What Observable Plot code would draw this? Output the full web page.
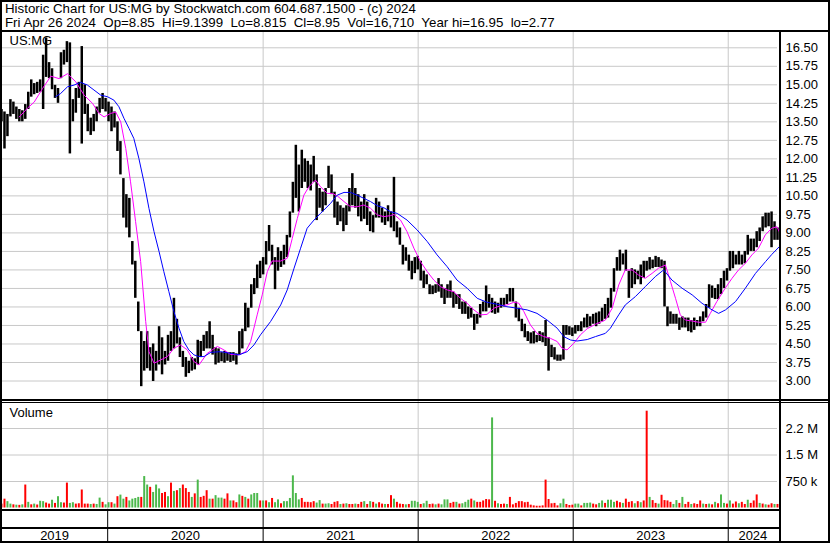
<!DOCTYPE html>
<html>
<head>
<meta charset="utf-8">
<script src="https://cdn.jsdelivr.net/npm/d3@7"></script>
<script src="https://cdn.jsdelivr.net/npm/@observablehq/plot@0.6"></script>
<style>
  html, body { margin: 0; padding: 0; background: #fff; }
  #chart { position: relative; width: 830px; height: 543px; background: #fff; overflow: hidden;
           font-family: "Liberation Sans", Arial, sans-serif; color: #000; }
  .abs { position: absolute; }
  .line { position: absolute; background: #000; }
  .title { position: absolute; left: 5px; font-size: 13.3px; line-height: 14px; white-space: pre; }
</style>
</head>
<body>
<div id="chart"></div>
<script>
// ---------------- DATA ----------------
const titleLine1 = "Historic Chart for US:MG by Stockwatch.com 604.687.1500 - (c) 2024";
const titleLine2 = "Fri Apr 26 2024  Op=8.85  Hi=9.1399  Lo=8.815  Cl=8.95  Vol=16,710  Year hi=16.95  lo=2.77";
const symbol = "US:MG";
const volumeLabel = "Volume";
const firstWeek = "2019-04-26";
const lastDay = "2024-04-26";

// weekly highs / lows (week 0 = 2019-04-26)
const weekHigh = [
14.0,13.9,13.8,14.4,14.3,14.1,14.0,13.95,14.2,14.7,15.2,15.05,15.1,15.2,16.2,16.9,15.9,15.65,14.98,14.85,
16.3,16.4,16.75,16.7,14.4,14.85,15.1,16.55,15.0,14.2,13.65,13.8,14.1,14.45,14.65,14.45,14.3,14.1,13.9,13.5,
12.7,11.2,10.55,10.4,8.65,7.85,6.2,5.0,4.6,5.0,4.35,4.5,4.2,5.2,4.75,4.2,4.85,5.0,6.35,5.5,
4.75,4.2,3.95,3.8,3.95,3.9,4.65,4.6,4.85,5.0,5.4,4.85,4.35,4.3,4.15,4.2,4.15,4.15,4.15,4.1,
5.0,5.1,6.15,5.95,6.9,7.15,7.7,7.85,8.0,8.65,9.3,8.5,8.0,8.4,8.25,8.5,8.9,9.85,11.05,12.55,
11.75,12.35,12.0,11.9,11.75,12.1,11.35,10.8,10.65,10.8,11.7,11.35,10.65,10.25,10.1,10.0,10.1,10.8,11.4,10.8,
10.55,10.25,10.55,10.25,9.85,9.7,10.4,10.25,10.0,9.85,10.1,9.85,11.25,9.45,9.2,8.5,8.4,8.1,7.85,8.0,
8.05,7.85,7.45,7.3,6.9,6.85,6.9,7.15,6.9,6.75,6.9,7.05,6.6,6.5,6.5,6.2,6.2,6.0,5.95,5.7,
5.7,6.1,6.2,6.85,6.5,6.35,6.2,6.15,6.35,6.35,6.5,6.75,6.75,6.2,5.95,5.5,5.3,5.0,4.95,5.0,
4.85,5.0,4.95,5.45,4.75,4.45,4.35,4.05,4.05,5.25,5.25,5.2,5.15,5.25,5.25,5.4,5.55,5.7,5.6,5.7,
5.75,5.8,5.95,6.1,6.35,6.75,7.55,8.0,8.3,8.15,8.3,7.45,7.55,7.5,7.45,7.7,7.85,7.85,8.0,7.9,
8.05,8.0,7.9,7.85,6.0,5.8,5.7,5.7,5.55,5.6,5.55,5.55,5.45,5.55,5.45,5.6,5.8,6.1,6.9,6.85,
6.75,6.9,7.15,7.45,7.55,8.25,8.25,8.1,8.25,8.1,8.25,8.9,8.75,8.75,9.05,9.2,9.65,9.8,9.8,9.85,
9.45,9.2];
const weekLow = [
13.5,12.4,12.9,13.7,13.8,13.6,13.5,13.5,13.6,14.0,14.5,14.6,14.65,14.7,14.0,15.3,15.25,14.8,14.45,14.25,
15.25,15.8,15.9,12.2,13.5,13.85,14.45,12.6,13.8,13.1,12.95,13.1,13.5,13.85,14.0,13.9,13.5,13.1,13.25,12.3,
11.35,9.6,9.2,8.8,7.7,6.35,5.0,2.77,3.4,3.5,3.4,2.98,3.4,3.65,3.25,3.65,3.8,4.2,4.3,4.5,
3.95,3.55,3.15,3.3,3.4,3.45,3.65,3.95,4.2,4.3,4.3,4.05,3.65,3.72,3.78,3.72,3.8,3.75,3.8,3.65,
4.05,4.3,5.0,5.15,5.95,6.5,6.75,7.15,7.3,7.7,8.25,7.7,6.7,7.45,7.6,7.7,8.0,8.8,9.8,10.4,
9.85,10.8,11.05,10.8,10.7,11.05,9.5,10.0,9.85,10.1,10.8,10.55,9.6,9.3,9.45,9.05,9.3,9.85,10.1,10.0,
9.65,9.45,9.55,9.3,9.05,9.0,9.6,9.6,9.4,9.3,9.45,9.2,9.05,8.8,8.5,7.7,7.85,7.45,7.1,7.35,
7.5,7.05,6.75,6.9,6.5,6.5,6.55,6.6,6.35,6.1,6.35,6.35,5.95,6.1,5.9,5.7,5.7,5.5,5.55,5.05,
5.3,5.55,5.8,5.8,5.95,5.75,5.7,5.75,5.95,6.0,6.1,6.2,6.2,5.55,5.4,5.0,4.75,4.6,4.5,4.5,
4.55,4.6,4.55,4.4,3.4,3.95,3.85,3.8,3.8,3.85,4.85,4.85,4.8,4.9,5.0,5.0,5.15,5.15,5.2,5.3,
5.2,5.3,5.4,5.5,5.55,5.95,6.6,7.45,7.45,7.7,7.45,6.35,6.75,6.9,7.1,6.9,7.15,7.45,7.5,7.55,
7.6,7.6,7.55,6.0,5.2,5.3,5.3,5.3,5.05,5.15,5.15,5.0,4.95,5.05,5.2,5.2,5.4,5.55,5.95,6.35,
6.3,6.3,6.5,6.75,7.05,7.45,7.55,7.7,7.7,7.7,7.75,8.1,8.25,8.25,8.4,8.65,9.05,9.2,9.25,8.4,
8.7,8.7];

// weekly volume (thousands) and up/down colour (g = up, r = down)
const weekVolumeK = [
110,250,180,110,90,80,75,90,650,160,90,110,85,190,180,140,110,220,130,320,
150,140,705,130,150,110,120,510,110,110,100,110,100,280,160,90,150,150,110,320,
365,250,300,200,250,270,300,300,890,650,585,440,650,540,410,440,320,705,470,490,
550,650,550,440,300,400,790,300,330,490,250,250,350,280,280,250,400,200,200,150,
370,330,300,250,370,410,410,200,200,200,150,270,150,230,120,180,180,270,910,410,
230,270,160,160,150,180,140,210,110,110,120,100,160,180,100,110,120,100,100,110,
100,160,180,100,180,160,110,150,110,100,100,350,250,160,110,100,90,100,190,190,
160,100,120,190,100,110,90,110,90,230,230,130,160,160,110,120,160,220,250,200,
160,160,200,240,230,2550,190,120,100,110,100,300,90,130,180,180,150,160,80,60,
50,50,60,790,240,120,130,60,120,250,100,70,80,110,110,60,130,130,140,110,
90,130,200,130,220,220,160,190,150,130,250,160,180,120,180,150,200,2740,300,210,
130,110,360,210,200,160,100,210,130,300,100,160,100,120,100,200,110,100,110,90,
160,120,370,130,110,200,110,170,120,160,100,220,130,200,370,130,110,90,80,120,
100,100];
const weekVolumeDir = [
"rrggrgrgrgrgrggrrgrg", "grrggrrrrrgrggrggrgr", "ggrggggrggrgggrrgrgr", "grrrgrgrrrgrgggrrgrr",
"grgrgggrgrgrggrggggg", "grrrrrggrggrrrgrgrrg", "rrgrgrgrrgrrgrrrgrgg", "grggrrgrgggrrgrgggrg",
"rrrrrgrgrrgrrrrrrrrr", "rrrrrrrrggrrrggrgggr", "rggrgggrrgrrrgrgrrgr", "rgrrrrggrgrrgrrrgrgr",
"grggrgrrgrrgrrrgrgrr", "gr"].join("");

// moving averages: [week, value]
const maFastWeeks = [6,8.7,11,13.8,16.6,19.4,22.2,25,27.8,30.6,32.8,34.5,36.7,38.4,40.1,41.8,43.4,45.1,46.8,48.5,
49.6,51.3,53.5,55.8,58,60.2,62.5,64.7,66.4,69.2,72.6,74.8,77,79.9,82.1,83.8,86,87.7,89.4,91,
93.9,96.1,97.8,99.5,101.7,103.4,105.6,107.3,109.6,111.3,112.9,115.2,117.4,119.6,121.9,124.1,126.4,128.6,130.8,132,
134.2,136.4,138.7,140.9,143.2,145.4,147.7,149.9,152.1,154.4,156.6,158.9,161.1,163.3,165.6,167.8,170,172.3,174,175.7,
177.9,180.1,182.4,184.6,186.9,188.5,190.2,192.5,194.7,197,199.8,203.1,205.4,207.6,209.8,212.1,214.3,216.5,218.8,221,
223.3,225,226.7,228.3,230,232.3,234.5,236.8,238.4,240.6,243.4,245.7,247.9,250.2,252.4,254.6,256.9,259.1,260.8,261.6];
const maFastValues = [13.7,14.05,14.3,14.85,15.35,15.25,15.45,15.12,14.58,14.25,13.84,13.7,13.84,13.9,13.5,12.42,11.07,9.46,7.84,5.41,
4.19,3.72,3.85,3.99,4.33,4.46,4.26,3.79,3.65,4.12,4.4,4.26,4.08,4.06,4.19,4.6,5.68,6.49,7.43,7.86,
7.86,7.97,8.78,9.59,10.53,10.87,11.14,10.87,10.6,10.6,10.5,10.27,10.06,10.06,10.13,10.0,9.73,9.66,9.7,9.75,
9.52,9.05,8.38,7.84,7.43,7.09,6.82,6.69,6.62,6.35,6.15,5.88,5.68,5.7,5.95,6.05,6.08,6.19,6.15,5.81,
5.27,4.93,4.8,4.73,4.6,4.33,4.26,4.53,4.87,5.12,5.3,5.47,5.95,6.89,7.5,7.5,7.29,7.16,7.36,7.57,
7.7,7.03,6.35,5.68,5.47,5.43,5.38,5.38,5.74,6.22,6.76,7.16,7.5,7.77,8.11,8.38,8.92,9.19,9.25,9.05];
const maSlowWeeks = [18.2,19.9,22.2,24.4,26.6,28.9,31.1,33.4,35.6,37.8,39.5,41.2,42.9,44.5,46.2,47.9,49.6,51.3,53,54.6,
56.3,58,59.7,61.3,63,64.7,66.4,68.1,70.4,73.7,77,79.9,82.7,84.9,87.1,90.5,93.9,96.1,98.4,100.6,
102.8,105.1,107.3,110.7,112.9,115.2,117.4,119.6,121.9,124.1,126.4,128.6,130.8,133.1,136.4,139.8,143.2,146.5,149.9,153.2,
156.6,160,163.3,166.7,170,173.4,176.8,180.1,183.5,186.9,189.1,191.4,193.6,197,199.8,203.1,204.8,207.6,209.8,213.2,
216.5,219.9,222.7,225.5,228.9,232.3,235.6,239,241.2,243.5,246.9,250.2,253.6,257,259.1,261.6];
const maSlowValues = [14.52,14.65,14.92,14.99,15.1,14.99,14.79,14.58,14.52,14.38,14.11,13.64,13.23,12.83,12.02,11.07,9.99,9.05,8.24,7.43,
6.62,5.81,5.14,4.6,4.26,4.06,3.99,3.99,4.16,4.19,4.12,4.06,4.19,4.46,4.87,5.41,6.08,6.69,7.57,8.38,
9.19,9.52,9.79,10.2,10.53,10.64,10.64,10.53,10.4,10.27,10.1,10.02,9.86,9.79,9.52,9.12,8.65,8.11,7.63,7.09,
6.76,6.35,6.19,6.11,6.01,5.95,5.88,5.74,5.47,5.14,4.8,4.66,4.62,4.68,4.8,4.93,5.14,5.68,6.08,6.42,
6.82,7.23,7.5,7.09,6.76,6.49,6.15,5.88,5.74,5.88,6.22,6.76,7.36,7.84,8.13,8.44];

// axes
const priceTicks = [3.00,3.75,4.50,5.25,6.00,6.75,7.50,8.25,9.00,9.75,10.50,11.25,12.00,12.75,13.50,14.25,15.00,15.75,16.50];
const volumeTicks = [750000, 1500000, 2250000];
const volumeTickLabels = ["750 k", "1.5 M", "2.2 M"];
const yearStarts = ["2020-01-01","2021-01-01","2022-01-01","2023-01-01","2024-01-01"];
const yearLabels = ["2019","2020","2021","2022","2023","2024"];

// ---------------- BUILD ----------------
const DAY = 864e5;
const t0 = new Date(firstWeek + "T00:00:00Z");
const t1 = new Date(lastDay + "T00:00:00Z");
const weekDate = w => new Date(t0.getTime() + w * 7 * DAY);
const yearDates = yearStarts.map(s => new Date(s + "T00:00:00Z"));

const bars = weekHigh.map((h, i) => ({date: weekDate(i), high: h, low: weekLow[i]}));
const vols = weekVolumeK.map((v, i) => ({date: weekDate(i), vol: v * 1000, dir: weekVolumeDir[i] || "r"}));
const fast = maFastWeeks.map((w, i) => ({date: weekDate(w), v: maFastValues[i]}));
const slow = maSlowWeeks.map((w, i) => ({date: weekDate(w), v: maSlowValues[i]}));

const bounds = [t0, ...yearDates, t1];
const yearMid = yearLabels.map((lab, i) => ({label: lab, date: new Date((bounds[i].getTime() + bounds[i + 1].getTime()) / 2)}));

const FONT = '"Liberation Sans", Arial, sans-serif';
const GRID = "#c8c8c8";
const common = {
  width: 830, marginLeft: 1, marginRight: 53, marginTop: 0, marginBottom: 0,
  style: {background: "transparent", fontFamily: FONT, fontSize: "13px", color: "#000", overflow: "visible"}
};
const xScale = {type: "utc", domain: [t0, t1], axis: null};

const pricePlot = Plot.plot({
  ...common, height: 368,
  x: xScale,
  y: {domain: [3, 16.5], range: [348.5, 15.3], axis: null},
  marks: [
    Plot.gridY(priceTicks, {stroke: GRID, strokeOpacity: 1}),
    Plot.gridX(yearDates, {stroke: GRID, strokeOpacity: 1}),
    Plot.ruleX(bars, {x: "date", y1: "low", y2: "high", stroke: "#000", strokeWidth: 2.5}),
    Plot.line(fast, {x: "date", y: "v", stroke: "#ff00ff", strokeWidth: 1}),
    Plot.line(slow, {x: "date", y: "v", stroke: "#0000ff", strokeWidth: 1}),
    Plot.axisY(priceTicks, {anchor: "right", label: null, tickSize: 0, tickPadding: 8, tickFormat: d => d.toFixed(2), fontSize: 13, fill: "#000"}),
    Plot.text([symbol], {text: d => d, frameAnchor: "top-left", dx: 8, dy: 3, fontSize: 13, textAnchor: "start", lineAnchor: "top", fill: "#000"})
  ]
});

const volumePlot = Plot.plot({
  ...common, height: 108,
  x: xScale,
  y: {domain: [0, 2250000], range: [106.5, 27], axis: null},
  marks: [
    Plot.gridY(volumeTicks, {stroke: GRID, strokeOpacity: 1}),
    Plot.gridX(yearDates, {stroke: GRID, strokeOpacity: 1}),
    Plot.ruleX(vols, {x: "date", y1: 0, y2: "vol", stroke: d => d.dir === "g" ? "#4cb84c" : "#ff0000", strokeWidth: 2}),
    Plot.axisY(volumeTicks, {anchor: "right", label: null, tickSize: 0, tickPadding: 8, tickFormat: d => volumeTickLabels[volumeTicks.indexOf(d)], fontSize: 13, fill: "#000"}),
    Plot.text([volumeLabel], {text: d => d, frameAnchor: "top-left", dx: 8, dy: 6, fontSize: 13, textAnchor: "start", lineAnchor: "top", fill: "#000"})
  ]
});

const bandPlot = Plot.plot({
  ...common, height: 34,
  x: xScale,
  y: {domain: [0, 1], axis: null},
  marks: [
    Plot.ruleX(yearDates, {stroke: "#000", strokeWidth: 1}),
    Plot.text(yearMid, {x: "date", text: "label", frameAnchor: "bottom", dy: -8, lineAnchor: "middle", fontSize: 13, fill: "#000"})
  ]
});

const chart = document.getElementById("chart");
function place(el, top) {
  const d = document.createElement("div");
  d.className = "abs"; d.style.left = "0px"; d.style.top = top + "px";
  d.appendChild(el); chart.appendChild(d);
}
function line(l, t, w, h) {
  const d = document.createElement("div");
  d.className = "line";
  Object.assign(d.style, {left: l + "px", top: t + "px", width: w + "px", height: h + "px"});
  chart.appendChild(d);
}
const t1d = document.createElement("div"); t1d.className = "title"; t1d.style.top = "2px";
t1d.textContent = titleLine1; chart.appendChild(t1d);
const t2d = document.createElement("div"); t2d.className = "title"; t2d.style.top = "16px";
t2d.textContent = titleLine2; chart.appendChild(t2d);

place(pricePlot, 32);
place(volumePlot, 401);
place(bandPlot, 509);

// frame lines
line(0, 0, 830, 2);       // top
line(0, 541, 830, 2);     // bottom
line(0, 0, 2, 543);       // left
line(828, 0, 2, 543);     // right
line(0, 30, 830, 2);      // under title
line(0, 399, 830, 2);     // price / volume
line(0, 402, 830, 1);
line(0, 509, 780, 2);     // under volume
line(0, 527, 780, 2);     // above years
line(779, 30, 2, 513);    // axis separator
</script>
</body>
</html>
